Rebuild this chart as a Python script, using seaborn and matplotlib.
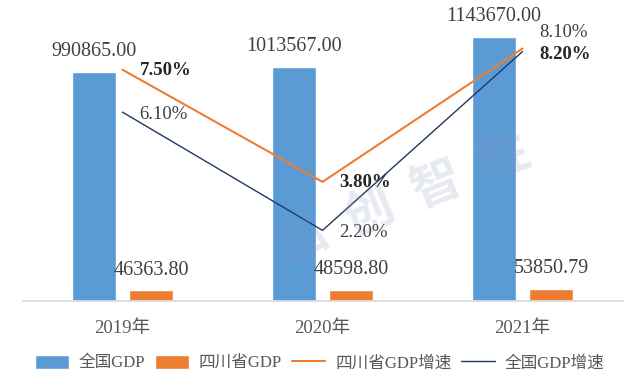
import matplotlib
matplotlib.use("Agg")
import matplotlib.pyplot as plt
import seaborn as sns
import pandas as pd
import numpy as np
from matplotlib.lines import Line2D
from matplotlib.patches import Patch

years = ['2019年', '2020年', '2021年']
gdp_china = [990865.00, 1013567.00, 1143670.00]
gdp_sichuan = [46363.80, 48598.80, 53850.79]
growth_sichuan = [7.5, 3.8, 8.2]
growth_china = [6.1, 2.2, 8.1]

sns.set_theme(style='white')
plt.rcParams['font.family'] = ['Liberation Serif', 'Noto Sans CJK SC', 'DejaVu Sans']

blue = '#5b9bd5'
orange = '#ed7d31'
navy = '#1f3864'
txt = '#404040'

df = pd.DataFrame({
    'year': years * 2,
    'gdp': gdp_china + gdp_sichuan,
    'series': ['全国GDP'] * 3 + ['四川省GDP'] * 3,
})

fig = plt.figure(figsize=(6.4, 3.9), dpi=100)
ax = fig.add_axes([22.5 / 640, 89 / 390, 600 / 640, 291 / 390])

sns.barplot(data=df, x='year', y='gdp', hue='series', palette=[blue, orange],
            width=0.57, gap=0.228, ax=ax, legend=False, saturation=1)
ax.set_xlim(-0.5, 2.5)
ax.set_ylim(0, 1.259e6)
ax.set_xlabel('')
ax.set_ylabel('')
ax.set_yticks([])
for s in ['top', 'right', 'left']:
    ax.spines[s].set_visible(False)
ax.spines['bottom'].set_color('#d9d9d9')
ax.tick_params(axis='x', length=0, pad=14, labelsize=13.5, labelcolor='#595959')

# bar value labels
for cont in ax.containers:
    for bar in cont:
        h = bar.get_height()
        ax.annotate(f'{h:.2f}', (bar.get_x() + bar.get_width() / 2, h),
                    xytext=(0, 20), textcoords='offset pixels',
                    ha='center', va='center', fontsize=14.5, color=txt)

# growth lines on secondary axis
ax2 = ax.twinx()
x = np.arange(len(years))
sns.lineplot(x=x, y=growth_sichuan, color=orange, linewidth=1.5, ax=ax2)
sns.lineplot(x=x, y=growth_china, color=navy, linewidth=1.0, ax=ax2)
ax2.set_ylim(-0.13, 9.47)
ax2.set_yticks([])
for s in ax2.spines.values():
    s.set_visible(False)

for i, v in enumerate(growth_sichuan):
    dy = -6 if i == 2 else -1
    ax2.annotate(f'{v:.2f}%', (x[i], v), xytext=(17, dy), textcoords='offset pixels',
                 ha='left', va='center', fontsize=13.5, color='#262626', fontweight='bold')
for i, v in enumerate(growth_china):
    dy = 19 if i == 2 else -2
    ax2.annotate(f'{v:.2f}%', (x[i], v), xytext=(17, dy), textcoords='offset pixels',
                 ha='left', va='center', fontsize=13.5, color=txt)

# watermark
fig.text(0.63, 0.49, '泓  创  智  胜', fontsize=36, color='#8895b8', alpha=0.2,
         rotation=22, ha='center', va='center', family=['Noto Sans CJK SC'], fontweight='bold')

handles = [
    Patch(facecolor=blue, label='全国GDP'),
    Patch(facecolor=orange, label='四川省GDP'),
    Line2D([0], [0], color=orange, linewidth=1.5, label='四川省GDP增速'),
    Line2D([0], [0], color=navy, linewidth=1.0, label='全国GDP增速'),
]
fig.legend(handles=handles, loc='center', bbox_to_anchor=(320 / 640, 27 / 390), ncol=4,
           frameon=False, fontsize=12, handlelength=2.0, handleheight=0.9,
           columnspacing=0.6, handletextpad=0.6, labelcolor='#595959')

fig.savefig('out.png', dpi=100)
